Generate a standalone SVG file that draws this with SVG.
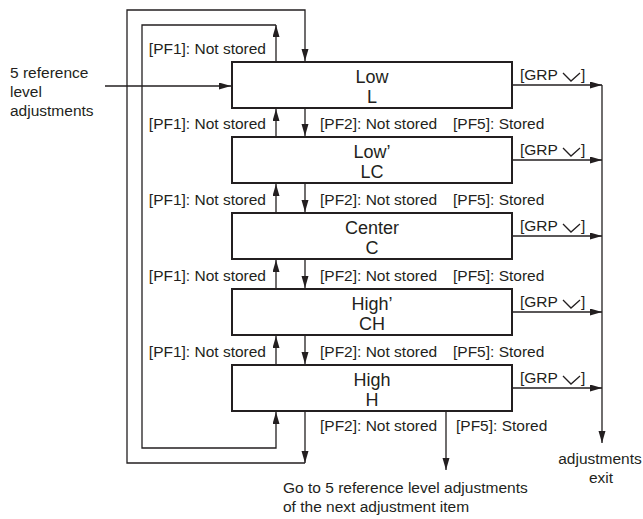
<svg xmlns="http://www.w3.org/2000/svg" width="643" height="519" viewBox="0 0 643 519">
<style>
text{font-family:"Liberation Sans",Arial,sans-serif;font-size:15.5px;fill:#231f20}
.c{text-anchor:middle}
.e{text-anchor:end}
.b{font-size:18px}
.box{fill:#fff;stroke:#231f20;stroke-width:2}
.ln{fill:none;stroke:#231f20;stroke-width:1.3}
</style>
<defs>
<marker id="ah" markerUnits="userSpaceOnUse" markerWidth="13" markerHeight="8" refX="12" refY="3.5" orient="auto">
<path d="M0,0 L12,3.5 L0,7 z" fill="#231f20"/>
</marker>
</defs>
<rect width="643" height="519" fill="#fff"/>
<g id="connectors">
<path class="ln" d="M105,86 H231" marker-end="url(#ah)"/>
<path class="ln" d="M305,411 V463" marker-end="url(#ah)"/>
<path class="ln" d="M305,463 H127 V10 H305 V61" marker-end="url(#ah)"/>
<path class="ln" d="M276,62 V25" marker-end="url(#ah)"/>
<path class="ln" d="M276,25 H142 V448 H276 V412" marker-end="url(#ah)"/>
<path class="ln" d="M276,137 V109" marker-end="url(#ah)"/>
<path class="ln" d="M305,108 V136" marker-end="url(#ah)"/>
<path class="ln" d="M276,213 V184" marker-end="url(#ah)"/>
<path class="ln" d="M305,183 V212" marker-end="url(#ah)"/>
<path class="ln" d="M276,289 V260" marker-end="url(#ah)"/>
<path class="ln" d="M305,259 V288" marker-end="url(#ah)"/>
<path class="ln" d="M276,365 V336" marker-end="url(#ah)"/>
<path class="ln" d="M305,335 V364" marker-end="url(#ah)"/>
<path class="ln" d="M446,411 V470" marker-end="url(#ah)"/>
<path class="ln" d="M513,85 H602" marker-end="url(#ah)"/>
<path class="ln" d="M513,160 H602" marker-end="url(#ah)"/>
<path class="ln" d="M513,236 H602" marker-end="url(#ah)"/>
<path class="ln" d="M513,312 H602" marker-end="url(#ah)"/>
<path class="ln" d="M513,388 H602" marker-end="url(#ah)"/>
<path class="ln" d="M602,85 V443" marker-end="url(#ah)"/>
</g>
<g id="labels">
<text x="10" y="78">5 reference</text>
<text x="10" y="97">level</text>
<text x="10" y="116">adjustments</text>
<text class="e" x="266" y="54">[PF1]: Not stored</text>
<text class="e" x="266" y="129">[PF1]: Not stored</text>
<text class="e" x="266" y="205">[PF1]: Not stored</text>
<text class="e" x="266" y="281">[PF1]: Not stored</text>
<text class="e" x="266" y="357">[PF1]: Not stored</text>
<text x="320" y="129">[PF2]: Not stored</text>
<text x="320" y="205">[PF2]: Not stored</text>
<text x="320" y="281">[PF2]: Not stored</text>
<text x="320" y="357">[PF2]: Not stored</text>
<text x="320" y="431">[PF2]: Not stored</text>
<text x="453" y="129">[PF5]: Stored</text>
<text x="453" y="205">[PF5]: Stored</text>
<text x="453" y="281">[PF5]: Stored</text>
<text x="453" y="357">[PF5]: Stored</text>
<text x="456" y="431">[PF5]: Stored</text>
<text x="283" y="493">Go to 5 reference level adjustments</text>
<text x="283" y="512">of the next adjustment item</text>
<text class="c" x="600" y="464">adjustments</text>
<text class="c" x="601" y="483">exit</text>
</g>
<g id="grp">
<g id="grp1"><text x="520" y="80">[GRP</text><path class="ln" d="M563,73 L571,81 L580,73"/><text x="581" y="80">]</text></g>
<g id="grp2"><text x="520" y="155">[GRP</text><path class="ln" d="M563,148 L571,156 L580,148"/><text x="581" y="155">]</text></g>
<g id="grp3"><text x="520" y="231">[GRP</text><path class="ln" d="M563,224 L571,232 L580,224"/><text x="581" y="231">]</text></g>
<g id="grp4"><text x="520" y="307">[GRP</text><path class="ln" d="M563,300 L571,308 L580,300"/><text x="581" y="307">]</text></g>
<g id="grp5"><text x="520" y="383">[GRP</text><path class="ln" d="M563,376 L571,384 L580,376"/><text x="581" y="383">]</text></g>
</g>
<g id="node-low">
<rect class="box" x="232" y="62" width="280" height="46"/>
<text class="c b" x="372" y="83">Low</text>
<text class="c b" x="372" y="103">L</text>
</g>
<g id="node-lowp">
<rect class="box" x="232" y="137" width="280" height="46"/>
<text class="c b" x="372" y="158">Low’</text>
<text class="c b" x="372" y="178">LC</text>
</g>
<g id="node-center">
<rect class="box" x="232" y="213" width="280" height="46"/>
<text class="c b" x="372" y="234">Center</text>
<text class="c b" x="372" y="254">C</text>
</g>
<g id="node-highp">
<rect class="box" x="232" y="289" width="280" height="46"/>
<text class="c b" x="372" y="310">High’</text>
<text class="c b" x="372" y="330">CH</text>
</g>
<g id="node-high">
<rect class="box" x="232" y="365" width="280" height="46"/>
<text class="c b" x="372" y="386">High</text>
<text class="c b" x="372" y="406">H</text>
</g>
</svg>
